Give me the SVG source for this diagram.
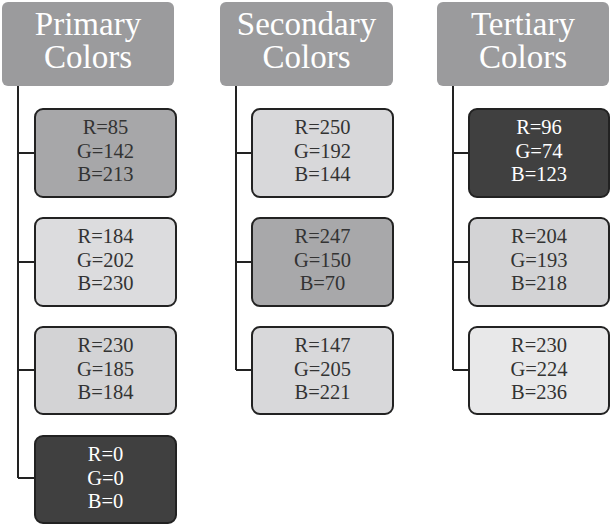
<svg xmlns="http://www.w3.org/2000/svg" width="611" height="526" viewBox="0 0 611 526">
<style>
.hdr{fill:#9b9b9d}
.hdr-t{font-family:"Liberation Serif","DejaVu Serif",serif;font-size:33px;fill:#ffffff;text-anchor:middle}
.box{stroke:#222;stroke-width:2}
.bt{font-family:"Liberation Serif","DejaVu Serif",serif;font-size:20.5px;fill:#333;text-anchor:middle}
.bt.w{fill:#fff}
.ln{fill:none;stroke:#222;stroke-width:2}
</style>
<rect width="611" height="526" fill="#fff"/>
<g id="connectors">
<path class="ln" d="M18 86V478M18 153H35M18 262H35M18 370H35M18 478H35"/>
<path class="ln" d="M236 86V370M236 153H252M236 262H252M236 370H252"/>
<path class="ln" d="M453 86V370M453 153H469M453 262H469M453 370H469"/>
</g>
<g id="primary-header"><rect class="hdr" x="2" y="2" width="172" height="84" rx="6"/><text class="hdr-t" x="88" y="35">Primary</text><text class="hdr-t" x="88" y="68">Colors</text></g>
<g id="secondary-header"><rect class="hdr" x="220" y="2" width="173" height="84" rx="6"/><text class="hdr-t" x="306.5" y="35">Secondary</text><text class="hdr-t" x="306.5" y="68">Colors</text></g>
<g id="tertiary-header"><rect class="hdr" x="437" y="2" width="172" height="84" rx="6"/><text class="hdr-t" x="523" y="35">Tertiary</text><text class="hdr-t" x="523" y="68">Colors</text></g>

<g id="p1"><rect class="box" x="35" y="109" width="141" height="88" rx="8" fill="#a7a7a9"/><text class="bt" x="105.5" y="134">R=85</text><text class="bt" x="105.5" y="158">G=142</text><text class="bt" x="105.5" y="181">B=213</text></g>
<g id="p2"><rect class="box" x="35" y="218" width="141" height="88" rx="8" fill="#dcdcde"/><text class="bt" x="105.5" y="243">R=184</text><text class="bt" x="105.5" y="267">G=202</text><text class="bt" x="105.5" y="290">B=230</text></g>
<g id="p3"><rect class="box" x="35" y="327" width="141" height="87" rx="8" fill="#d3d3d5"/><text class="bt" x="105.5" y="352">R=230</text><text class="bt" x="105.5" y="376">G=185</text><text class="bt" x="105.5" y="399">B=184</text></g>
<g id="p4"><rect class="box" x="35" y="436" width="141" height="87" rx="8" fill="#404040"/><text class="bt w" x="105.5" y="461">R=0</text><text class="bt w" x="105.5" y="485">G=0</text><text class="bt w" x="105.5" y="508">B=0</text></g>

<g id="s1"><rect class="box" x="252" y="109" width="141" height="88" rx="8" fill="#d8d8da"/><text class="bt" x="322.5" y="134">R=250</text><text class="bt" x="322.5" y="158">G=192</text><text class="bt" x="322.5" y="181">B=144</text></g>
<g id="s2"><rect class="box" x="252" y="218" width="141" height="88" rx="8" fill="#a8a8aa"/><text class="bt" x="322.5" y="243">R=247</text><text class="bt" x="322.5" y="267">G=150</text><text class="bt" x="322.5" y="290">B=70</text></g>
<g id="s3"><rect class="box" x="252" y="327" width="141" height="87" rx="8" fill="#d8d8da"/><text class="bt" x="322.5" y="352">R=147</text><text class="bt" x="322.5" y="376">G=205</text><text class="bt" x="322.5" y="399">B=221</text></g>

<g id="t1"><rect class="box" x="469" y="109" width="140" height="88" rx="8" fill="#404040"/><text class="bt w" x="539" y="134">R=96</text><text class="bt w" x="539" y="158">G=74</text><text class="bt w" x="539" y="181">B=123</text></g>
<g id="t2"><rect class="box" x="469" y="218" width="140" height="88" rx="8" fill="#d3d3d5"/><text class="bt" x="539" y="243">R=204</text><text class="bt" x="539" y="267">G=193</text><text class="bt" x="539" y="290">B=218</text></g>
<g id="t3"><rect class="box" x="469" y="327" width="140" height="87" rx="8" fill="#e8e8e9"/><text class="bt" x="539" y="352">R=230</text><text class="bt" x="539" y="376">G=224</text><text class="bt" x="539" y="399">B=236</text></g>
</svg>
